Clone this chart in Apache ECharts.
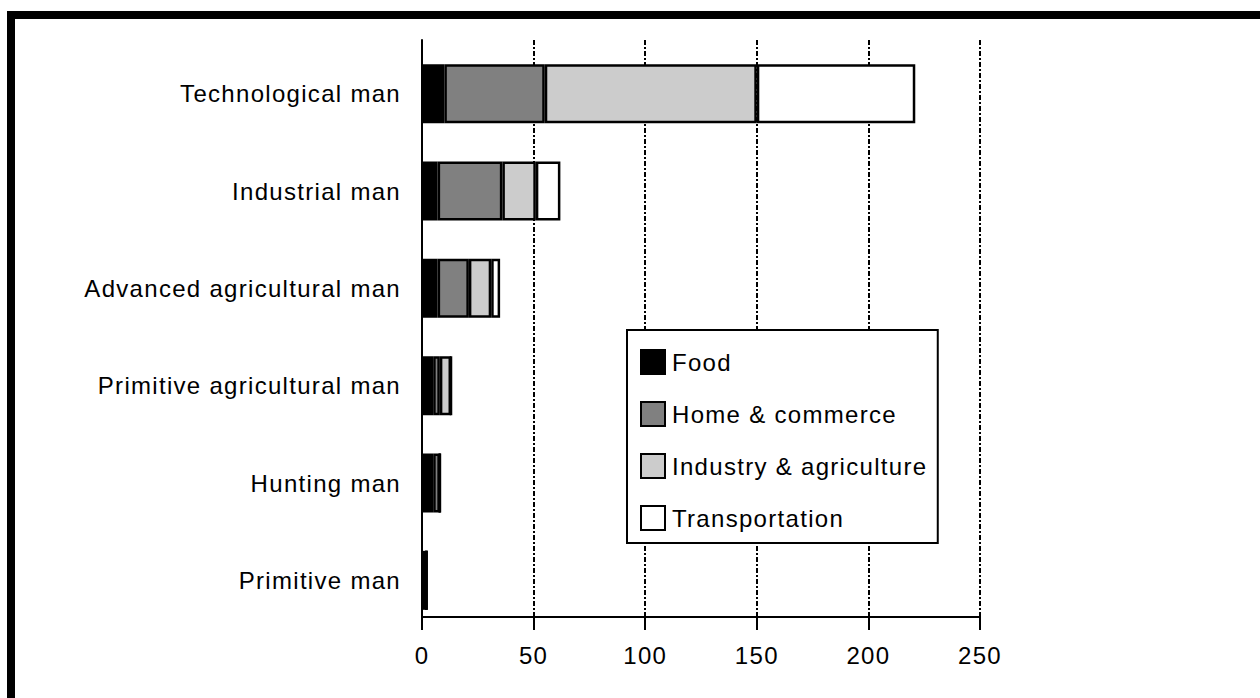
<!DOCTYPE html>
<html>
<head>
<meta charset="utf-8">
<script src="https://cdn.jsdelivr.net/npm/echarts@6/dist/echarts.min.js"></script>
<style>
html,body{margin:0;padding:0;background:#fff;}
#chart{width:1260px;height:698px;}
#chart svg text{letter-spacing:1.3px;}
</style>
</head>
<body>
<div id="chart"></div>
<script>
const categories = ['Technological man','Industrial man','Advanced agricultural man','Primitive agricultural man','Hunting man','Primitive man'];
const food = [10, 7, 7, 5, 5, 2];
const homeCommerce = [45, 29, 14, 3, 3, 0];
const industryAgriculture = [95, 15, 10, 5, 0, 0];
const transportation = [71, 11, 4, 0, 0, 0];
const seriesNames = ['Food','Home & commerce','Industry & agriculture','Transportation'];
const xTicks = [0, 50, 100, 150, 200, 250];

const FONT = 'Liberation Sans, Arial, sans-serif';
const colors = ['#000000','#808080','#cccccc','#ffffff'];
const values = [food, homeCommerce, industryAgriculture, transportation];

const chart = echarts.init(document.getElementById('chart'), null, {renderer:'svg'});
const option = {
  backgroundColor: '#ffffff',
  animation: false,
  graphic: [
    {type:'rect', shape:{x:7,y:11,width:1253,height:8}, style:{fill:'#000'}, z:100},
    {type:'rect', shape:{x:7,y:11,width:8,height:687}, style:{fill:'#000'}, z:100}
  ],
  legend: {
    orient: 'vertical',
    left: 627, top: 330,
    padding: [19, 39, 12, 13],
    itemWidth: 24, itemHeight: 24, itemGap: 26,
    icon: 'rect',
    borderColor: '#000', borderWidth: 2, backgroundColor: '#fff',
    itemStyle: {borderColor:'#000', borderWidth:2},
    textStyle: {fontSize: 24, color: '#000', fontFamily: FONT, padding: [0,0,0,2]},
    data: seriesNames
  },
  grid: [
    {left: 422, right: 280, top: 40, bottom: 81},
    {left: 422, right: 280, top: 45, bottom: 69}
  ],
  xAxis: [
    {
      gridIndex: 0, type: 'value', min: xTicks[0], max: xTicks[xTicks.length-1], interval: 50,
      axisLine: {show: true, lineStyle: {color:'#000', width: 2}},
      axisTick: {show: true, length: 13, lineStyle: {color:'#000', width: 2}},
      axisLabel: {fontSize: 24, color:'#000', fontFamily: FONT, margin: 26},
      splitLine: {show: true, lineStyle: {color:'#000', width: 2, type: [5,2,2,2]}}
    },
    {
      gridIndex: 1, type: 'value', min: xTicks[0], max: xTicks[xTicks.length-1], interval: 50, show: false
    }
  ],
  yAxis: [
    {
      gridIndex: 0, type: 'category', data: categories, inverse: true,
      axisLine: {show: true, lineStyle: {color:'#000', width: 2}},
      axisTick: {show: false}, axisLabel: {show: false}, splitLine: {show: false}
    },
    {
      gridIndex: 1, type: 'category', data: categories, inverse: true,
      axisLine: {show: false}, axisTick: {show: false},
      axisLabel: {fontSize: 24, color:'#000', fontFamily: FONT, margin: 21}
    }
  ],
  series: seriesNames.map((name, i) => ({
    name: name,
    type: 'bar',
    stack: 'total',
    xAxisIndex: 1, yAxisIndex: 1,
    barWidth: 59,
    itemStyle: {color: colors[i], borderColor: '#000', borderWidth: 2.5},
    data: values[i]
  }))
};
chart.setOption(option);
</script>
</body>
</html>
